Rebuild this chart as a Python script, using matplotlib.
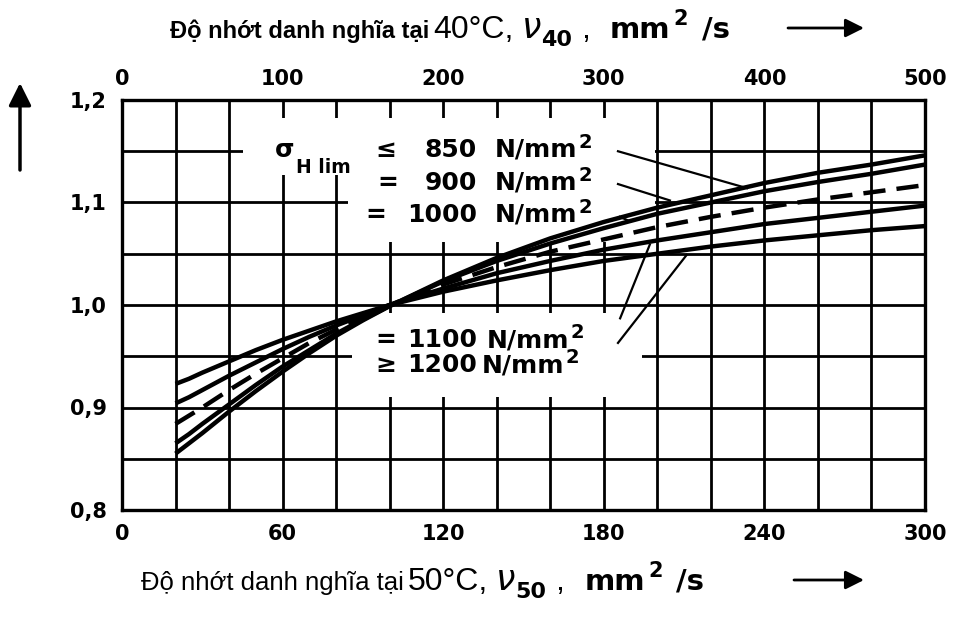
import matplotlib
matplotlib.use("Agg")
import matplotlib.pyplot as plt
from matplotlib.patches import Rectangle
from matplotlib.ticker import MultipleLocator, FixedLocator, FuncFormatter

plt.rcParams["font.family"] = ["DejaVu Sans"]

# Nominal viscosity at 50 °C (mm²/s) and lubricant factor curves
nu50 = [20, 25, 30, 40, 50, 60, 70, 80, 90, 100, 120, 140, 160, 180, 200,
        220, 240, 260, 280, 300]
z_850 = [0.855, 0.865, 0.875, 0.896, 0.916, 0.935, 0.953, 0.970, 0.985, 0.999,
         1.024, 1.046, 1.065, 1.081, 1.095, 1.107, 1.119, 1.129, 1.137, 1.146]
z_900 = [0.865, 0.874, 0.884, 0.903, 0.922, 0.940, 0.956, 0.972, 0.986, 0.999,
         1.023, 1.043, 1.060, 1.075, 1.089, 1.100, 1.111, 1.120, 1.128, 1.137]
z_1000 = [0.884, 0.892, 0.900, 0.917, 0.933, 0.948, 0.963, 0.976, 0.988, 1.000,
          1.020, 1.037, 1.052, 1.064, 1.076, 1.086, 1.095, 1.103, 1.110, 1.117]
z_1100 = [0.904, 0.910, 0.917, 0.931, 0.944, 0.957, 0.969, 0.980, 0.990, 1.000,
          1.016, 1.031, 1.043, 1.054, 1.063, 1.071, 1.079, 1.085, 1.091, 1.097]
z_1200 = [0.923, 0.928, 0.934, 0.945, 0.956, 0.966, 0.975, 0.984, 0.992, 1.000,
          1.013, 1.024, 1.034, 1.043, 1.050, 1.057, 1.063, 1.068, 1.073, 1.077]

x_ticks = [0, 60, 120, 180, 240, 300]
y_ticks = [0.8, 0.9, 1.0, 1.1, 1.2]
top_ticks = [0, 100, 200, 300, 400, 500]

W, H = 957, 618
fig = plt.figure(figsize=(W / 100, H / 100), dpi=100)
ax = fig.add_axes([122 / W, 108 / H, 803 / W, 410 / H])
ax.set_xlim(0, 300)
ax.set_ylim(0.8, 1.2)

# grid
ax.xaxis.set_major_locator(FixedLocator(x_ticks))
ax.xaxis.set_minor_locator(MultipleLocator(20))
ax.yaxis.set_major_locator(FixedLocator(y_ticks))
ax.yaxis.set_minor_locator(MultipleLocator(0.05))
ax.grid(True, which="both", color="black", lw=2.0)
ax.set_axisbelow(True)
for s in ax.spines.values():
    s.set_linewidth(2.4)
ax.tick_params(which="both", length=0)
ax.tick_params(axis="x", pad=10, labelsize=15)
ax.tick_params(axis="y", pad=11, labelsize=15)
ax.yaxis.set_major_formatter(FuncFormatter(lambda v, p: f"{v:.1f}".replace(".", ",")))
for lbl in ax.get_xticklabels() + ax.get_yticklabels():
    lbl.set_fontweight("bold")

# top scale: viscosity at 40 °C
sec = ax.secondary_xaxis("top", functions=(lambda v: v * 5 / 3, lambda v: v * 3 / 5))
sec.set_xticks(top_ticks)
sec.tick_params(length=0, pad=8, labelsize=15)
for lbl in sec.get_xticklabels():
    lbl.set_fontweight("bold")
sec.spines["top"].set_visible(False)

# white panels behind the labels
for (x0, x1, y0, y1) in [(45.2, 199.1, 1.1268, 1.1824),
                         (84.4, 199.1, 1.0615, 1.1270),
                         (85.9, 194.2, 0.9102, 0.9922)]:
    ax.add_patch(Rectangle((x0, y0), x1 - x0, y1 - y0, facecolor="white",
                           edgecolor="none", zorder=1))

# curves
for z in (z_850, z_900, z_1100, z_1200):
    ax.plot(nu50, z, color="black", lw=3.2, solid_capstyle="butt", zorder=3)
ax.plot(nu50, z_1000, color="black", lw=3.2, ls=(0, (5, 2.5)), zorder=3)

# leader lines
for (xa, ya, xb, yb) in [(185.3, 1.150, 233.5, 1.114),
                         (185.3, 1.118, 204.7, 1.102),
                         (186.0, 1.086, 189.5, 1.082),
                         (186.1, 0.987, 197.2, 1.059),
                         (185.3, 0.963, 211.0, 1.049)]:
    ax.plot([xa, xb], [ya, yb], color="black", lw=1.6, zorder=3)

fs = 18
kw = dict(fontsize=fs, color="black", zorder=4, va="baseline", fontweight="bold")
ax.text(57.2, 1.1444, "σ", ha="left", **kw)
ax.text(64.9, 1.1290, "H lim", ha="left", fontsize=13.5, zorder=4, va="baseline",
        fontweight="bold")
rows = [("≤", "850", 94.5, 1.1444, 139.3),
        ("=", "900", 95.3, 1.1122, 139.3),
        ("=", "1000", 90.8, 1.0810, 139.3),
        ("=", "1100", 94.5, 0.9590, 136.3),
        ("≥", "1200", 94.5, 0.9346, 134.5)]
for sym, num, xs, yb, xn in rows:
    ax.text(xs, yb, sym, ha="left", **kw)
    ax.text(132.5, yb, num, ha="right", **kw)
    t = ax.text(xn, yb, "N/mm", ha="left", **kw)
    ax.annotate("2", xy=(1, 0), xycoords=t, xytext=(1, 14),
                textcoords="offset pixels", va="baseline", ha="left",
                fontsize=14, fontweight="bold", zorder=4)

# axis titles built from pieces laid out left to right
renderer = fig.canvas.get_renderer()
sans = ["Liberation Sans", "DejaVu Sans"]


def title_line(pieces, x0, y0):
    x = x0
    for s, dx, dy, opts in pieces:
        t = fig.text((x + dx) / W, 1 - (y0 + dy) / H, s, ha="left",
                     va="baseline", **opts)
        x = t.get_window_extent(renderer).x1


def pieces_for(temp, sub, head_size, head_weight):
    return [
        ("Độ nhớt danh nghĩa tại", 0, 0,
         dict(fontsize=head_size, family=sans, fontweight=head_weight)),
        (temp + "°C,", 4, 0, dict(fontsize=23, family=sans)),
        ("ν", 8, 0, dict(fontsize=25, family="DejaVu Sans", style="italic")),
        (sub, 0, 8, dict(fontsize=16, fontweight="bold")),
        (",", 9, 0, dict(fontsize=23, family=sans)),
        ("mm", 20, 0, dict(fontsize=21, fontweight="bold")),
        ("2", 3, -13, dict(fontsize=15, fontweight="bold")),
        ("/s", 14, 0, dict(fontsize=21, fontweight="bold")),
    ]


title_line(pieces_for("40", "40", 17, "bold"), 170, 38)
title_line(pieces_for("50", "50", 18.5, "normal"), 141, 590)

arrow = dict(arrowstyle="-|>", color="black", lw=2, mutation_scale=28,
             shrinkA=0, shrinkB=0)
ax.annotate("", xy=(864, H - 28), xytext=(788, H - 28),
            xycoords="figure pixels", textcoords="figure pixels", arrowprops=arrow)
ax.annotate("", xy=(864, H - 580), xytext=(794, H - 580),
            xycoords="figure pixels", textcoords="figure pixels", arrowprops=arrow)
ax.annotate("", xy=(20, H - 83), xytext=(20, H - 170),
            xycoords="figure pixels", textcoords="figure pixels",
            arrowprops=dict(arrowstyle="-|>", color="black", lw=2.5,
                            mutation_scale=34, shrinkA=0, shrinkB=0))

fig.savefig("out.png", dpi=100, facecolor="white")
